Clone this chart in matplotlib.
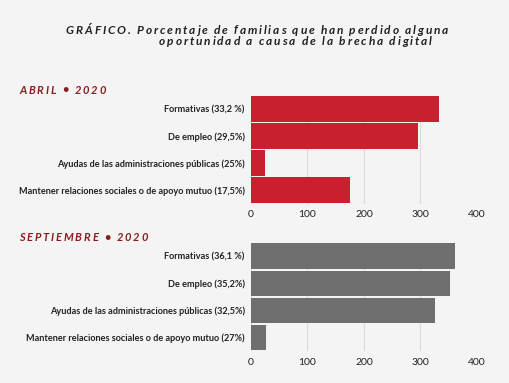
import matplotlib
matplotlib.use("Agg")
import matplotlib.pyplot as plt

categories_abril = ["Formativas (33,2 %)", "De empleo (29,5%)",
                    "Ayudas de las administraciones públicas (25%)",
                    "Mantener relaciones sociales o de apoyo mutuo (17,5%)"]
values_abril = [332, 295, 25, 175]

categories_sept = ["Formativas (36,1 %)", "De empleo (35,2%)",
                   "Ayudas de las administraciones públicas (32,5%)",
                   "Mantener relaciones sociales o de apoyo mutuo (27%)"]
values_sept = [361, 352, 325, 27]

xticks = [0, 100, 200, 300, 400]

BG = "#F4F4F4"
RED = "#C8202F"
GRAY = "#6F6F6F"
DARKRED = "#8A1E1E"

fig = plt.figure(figsize=(5.10, 3.83), dpi=100, facecolor=BG)
W, H = 510, 383
renderer = fig.canvas.get_renderer()


def text_width(s, **kw):
    t = fig.text(0, 0, s, **kw)
    w = t.get_window_extent(renderer=renderer).width
    t.remove()
    return w


def spaced_text(x_px, y_px, s, target_width, **kw):
    ref = text_width("I", **kw)
    natural = text_width(s, **kw)
    n = len(s)
    spacing = (target_width - natural) / max(n - 1, 1)
    for i, ch in enumerate(s):
        if ch == " ":
            continue
        off = (text_width(s[:i] + "I", **kw) - ref) if i > 0 else 0.0
        fig.text((x_px + off + i * spacing) / W, 1 - y_px / H, ch,
                 ha="left", va="center", **kw)


def make_axes(top_px, bottom_px, cats, vals, color):
    ax = fig.add_axes([251 / W, 1 - bottom_px / H, (477 - 251) / W, (bottom_px - top_px) / H])
    ax.set_facecolor(BG)
    y = list(range(len(cats)))
    ax.barh(y, vals, height=0.93, color=color, zorder=3)
    ax.set_ylim(len(cats) - 0.5, -0.5)
    ax.set_xlim(0, 400)
    ax.set_xticks(xticks)
    ax.set_xticklabels([str(t) for t in xticks], fontsize=7.5, family="Lato", color="#222222")
    ax.set_yticks(y)
    ax.set_yticklabels(cats, fontsize=6.6, family="Lato", fontweight="bold", color="#222222")
    ax.tick_params(axis="both", length=0)
    ax.tick_params(axis="y", pad=4.5)
    ax.tick_params(axis="x", pad=5)
    for s in ax.spines.values():
        s.set_visible(False)
    ax.grid(axis="x", color="#DADADA", linewidth=0.8, zorder=0)
    ax.set_axisbelow(True)
    return ax


make_axes(95.5, 203.5, categories_abril, values_abril, RED)
make_axes(242.5, 351, categories_sept, values_sept, GRAY)

title_kw = dict(fontsize=8.6, family=["Lato", "DejaVu Sans"], fontstyle="italic",
                fontweight="bold", color="#222222")
spaced_text(66, 30, "GRÁFICO. Porcentaje de familias que han perdido alguna", 382, **title_kw)
spaced_text(159, 41.5, "oportunidad a causa de la brecha digital", 273, **title_kw)

sec_kw = dict(fontsize=8.0, family=["Lato", "DejaVu Sans"], fontstyle="italic",
              fontweight="bold", color=DARKRED)
spaced_text(19, 90, "ABRIL • 2020", 87, **sec_kw)
spaced_text(19, 237.5, "SEPTIEMBRE • 2020", 129, **sec_kw)

fig.savefig("out.png", dpi=100, facecolor=BG)
